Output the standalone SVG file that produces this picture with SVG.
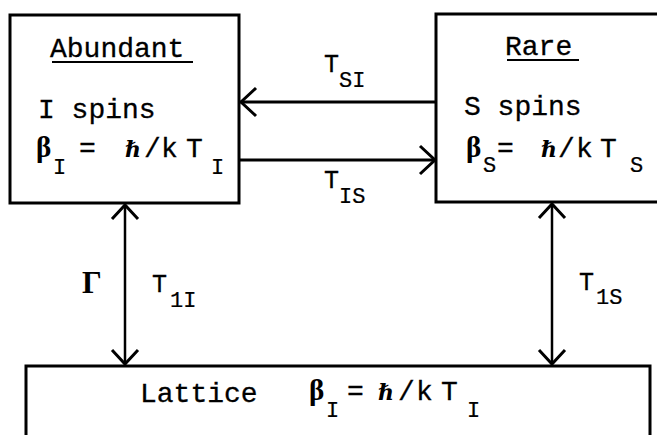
<svg xmlns="http://www.w3.org/2000/svg" width="657" height="435" viewBox="0 0 657 435">
<style>
.box{fill:none;stroke:#000;stroke-width:3}
.ln{fill:none;stroke:#000;stroke-width:3;stroke-linecap:square}
.vl{fill:none;stroke:#000;stroke-width:2.5}
.hd{fill:none;stroke:#000;stroke-width:3;stroke-linejoin:miter}
.m{font-family:"Liberation Mono","Courier New",monospace;font-size:28px;fill:#000;stroke:#000;stroke-width:0.3}
.s{font-family:"Liberation Mono","Courier New",monospace;font-size:22px;fill:#000;stroke:#000;stroke-width:0.2}
.t{font-family:"Liberation Mono","Courier New",monospace;font-size:25px;fill:#000;stroke:#000;stroke-width:0.3}
.b{font-family:"Liberation Serif","DejaVu Serif",serif;font-weight:bold;font-size:29px;fill:#000}
.g{font-family:"Liberation Serif","DejaVu Serif",serif;font-weight:bold;font-size:31px;fill:#000}
.h{font-family:"DejaVu Serif","Liberation Serif",serif;font-style:italic;font-weight:bold;font-size:22px;fill:#000}
</style>
<rect width="657" height="435" fill="#fff"/>
<g id="abundant">
<rect class="box" x="10" y="15" width="229" height="188"/>
<text class="m" x="50" y="57">Abundant</text>
<line x1="52" y1="62" x2="193" y2="62" stroke="#000" stroke-width="2"/>
<text class="m" x="38" y="118">I spins</text>
<text class="b" x="36" y="157">β</text>
<text class="s" x="53" y="174">I</text>
<text class="m" x="79" y="157">=</text>
<text class="h" x="125" y="157">ℏ</text>
<text class="m" x="144" y="157">/</text>
<text class="m" x="161" y="157">k</text>
<text class="m" x="186" y="157">T</text>
<text class="s" x="211" y="174">I</text>
</g>
<g id="rare">
<rect class="box" x="436" y="14" width="224" height="188"/>
<text class="m" x="505" y="55">Rare</text>
<line x1="507" y1="60" x2="579" y2="60" stroke="#000" stroke-width="2"/>
<text class="m" x="464" y="115">S spins</text>
<text class="b" x="466" y="157">β</text>
<text class="s" x="483" y="172">S</text>
<text class="m" x="497" y="157">=</text>
<text class="h" x="541" y="157">ℏ</text>
<text class="m" x="558" y="157">/</text>
<text class="m" x="576" y="157">k</text>
<text class="m" x="600" y="157">T</text>
<text class="s" x="630" y="172">S</text>
</g>
<g id="lattice">
<rect class="box" x="26" y="366" width="624" height="72"/>
<text class="m" x="140" y="402">Lattice</text>
<text class="b" x="309" y="400">β</text>
<text class="s" x="326" y="417">I</text>
<text class="m" x="347" y="400">=</text>
<text class="h" x="378" y="400">ℏ</text>
<text class="m" x="398" y="400">/</text>
<text class="m" x="416" y="400">k</text>
<text class="m" x="441" y="400">T</text>
<text class="s" x="467" y="417">I</text>
</g>
<g id="connectors">
<line class="ln" x1="435" y1="102" x2="242" y2="102"/>
<polyline class="hd" points="256,88 241,102 256,116"/>
<line class="ln" x1="241" y1="160" x2="434" y2="160"/>
<polyline class="hd" points="420,146 435,160 420,174"/>
<line class="vl" x1="125" y1="205" x2="125" y2="363"/>
<polyline class="hd" points="112,219 125,205 138,219"/>
<polyline class="hd" points="112,350 125,364 138,350"/>
<line class="vl" x1="552" y1="204" x2="552" y2="364"/>
<polyline class="hd" points="539,218 552,204 565,218"/>
<polyline class="hd" points="539,350 552,364 565,350"/>
</g>
<g id="labels">
<text class="t" x="324" y="72">T</text>
<text class="s" x="339" y="87">SI</text>
<text class="t" x="324" y="188">T</text>
<text class="s" x="339" y="203">IS</text>
<text class="g" x="82" y="293">Γ</text>
<text class="t" x="152" y="292">T</text>
<text class="s" x="170" y="307">1I</text>
<text class="t" x="579" y="290">T</text>
<text class="s" x="596" y="304">1S</text>
</g>
</svg>
